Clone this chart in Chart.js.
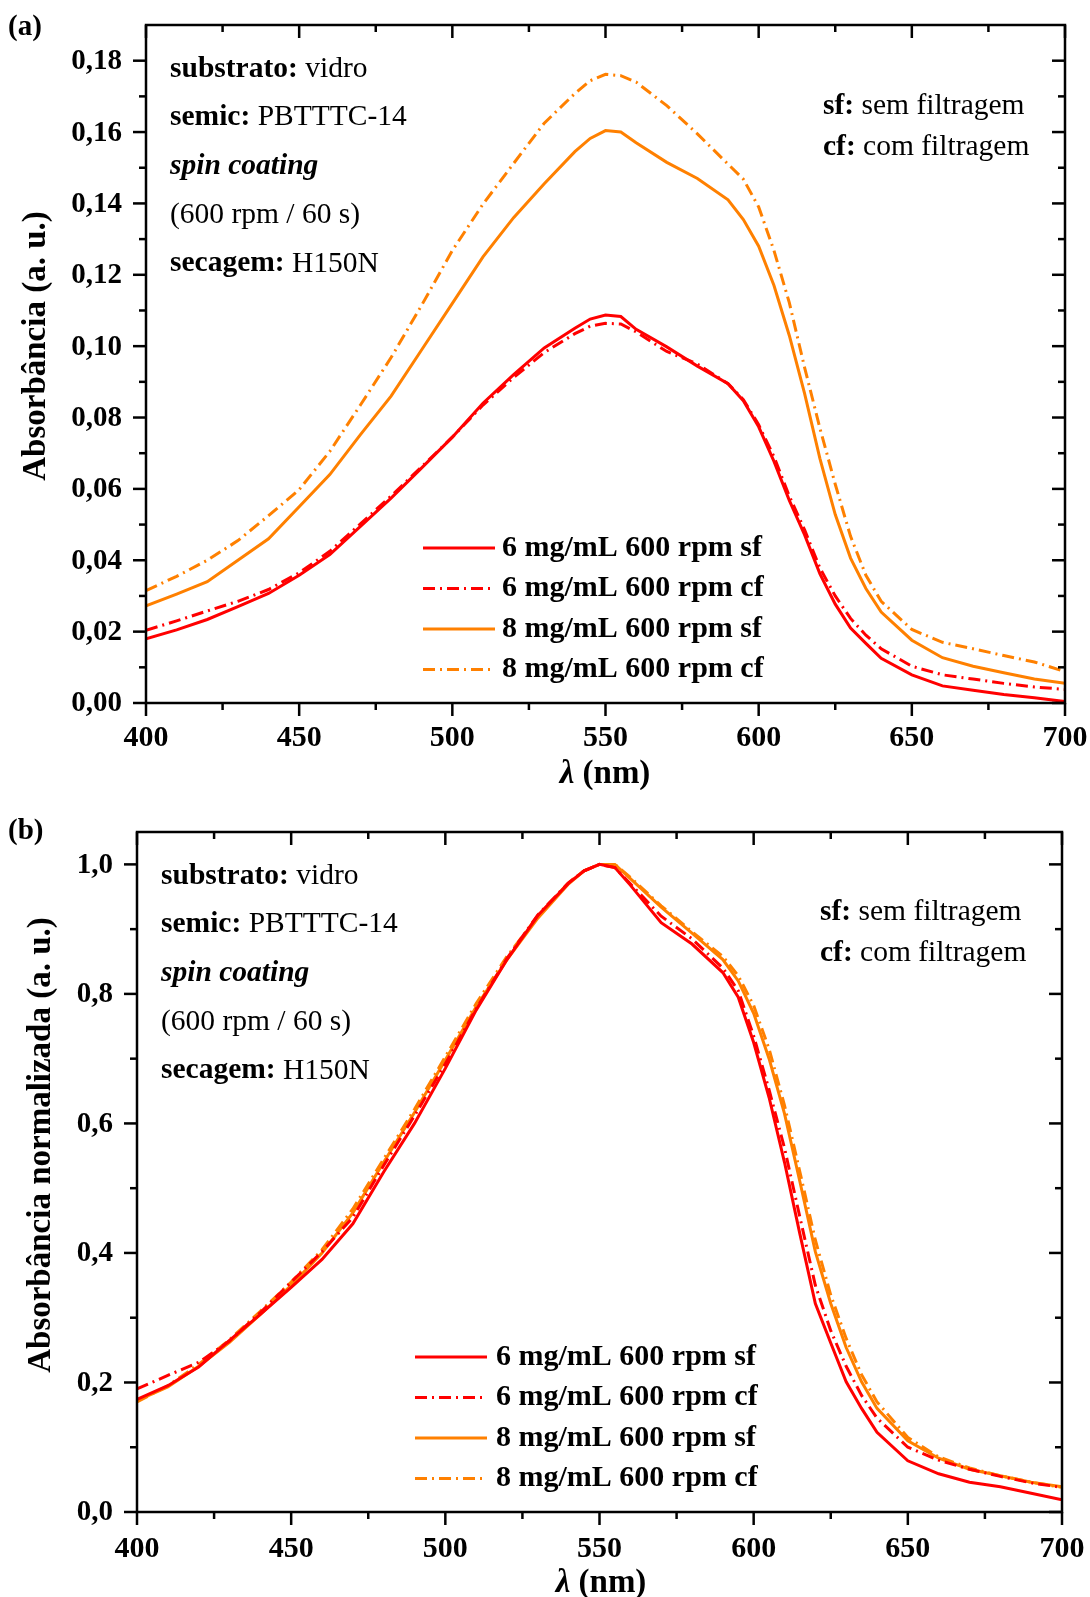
<!DOCTYPE html>
<html>
<head>
<meta charset="utf-8">
<script src="https://cdn.jsdelivr.net/npm/chart.js@4.4.1/dist/chart.umd.min.js"></script>
<style>
  html, body { margin: 0; padding: 0; background: #fff; }
  #wrap { position: relative; width: 1090px; height: 1597px; }
  canvas { position: absolute; left: 0; }
</style>
</head>
<body>
<div id="wrap">
  <canvas id="chartA" width="1090" height="790" style="top:0"></canvas>
  <canvas id="chartB" width="1090" height="807" style="top:790px"></canvas>
</div>
<script>
// wavelength grid (nm), shared by every curve
const wavelengths = [400, 410, 420, 430, 440, 450, 460, 470, 480, 490, 500, 510, 520, 530, 540, 545, 550, 555, 560,
  570, 580, 590, 595, 600, 605, 610, 615, 620, 625, 630, 635, 640, 650, 660, 670, 680, 690, 700];

const seriesLabels = ["6 mg/mL 600 rpm sf", "6 mg/mL 600 rpm cf", "8 mg/mL 600 rpm sf", "8 mg/mL 600 rpm cf"];

// (a) absorbance
const absA6sf = [0.0180, 0.0205, 0.0234, 0.0270, 0.0307, 0.0358, 0.0416, 0.0495, 0.0574, 0.0659, 0.0745, 0.0840, 0.0920, 0.0995, 0.1050, 0.1076, 0.1087, 0.1083,
  0.1047, 0.0998, 0.0944, 0.0895, 0.0847, 0.0774, 0.0677, 0.0568, 0.0471, 0.0362, 0.0277, 0.0210, 0.0167, 0.0125, 0.0079, 0.0048, 0.0036, 0.0024, 0.0015, 0.0004];
const absA6cf = [0.0204, 0.0230, 0.0258, 0.0285, 0.0318, 0.0365, 0.0425, 0.0502, 0.0580, 0.0662, 0.0745, 0.0835, 0.0912, 0.0982, 0.1035, 0.1056, 0.1064, 0.1062,
  0.1040, 0.0985, 0.0950, 0.0895, 0.0850, 0.0780, 0.0690, 0.0580, 0.0485, 0.0378, 0.0300, 0.0237, 0.0190, 0.0152, 0.0103, 0.0079, 0.0067, 0.0055, 0.0045, 0.0038];
const absA8sf = [0.0272, 0.0305, 0.0340, 0.0400, 0.0460, 0.0550, 0.0640, 0.0752, 0.0860, 0.0990, 0.1120, 0.1250, 0.1360, 0.1455, 0.1545, 0.1582, 0.1604, 0.1600,
  0.1570, 0.1515, 0.1470, 0.1410, 0.1355, 0.1280, 0.1170, 0.1030, 0.0867, 0.0685, 0.0528, 0.0406, 0.0321, 0.0255, 0.0176, 0.0127, 0.0103, 0.0085, 0.0067, 0.0055];
const absA8cf = [0.0315, 0.0355, 0.0400, 0.0455, 0.0525, 0.0598, 0.0705, 0.0835, 0.0968, 0.1115, 0.1268, 0.1398, 0.1512, 0.1625, 0.1708, 0.1744, 0.1762, 0.1758,
  0.1740, 0.1674, 0.1595, 0.1510, 0.1468, 0.1390, 0.1268, 0.1122, 0.0940, 0.0770, 0.0613, 0.0467, 0.0358, 0.0285, 0.0206, 0.0170, 0.0152, 0.0133, 0.0115, 0.0088];

// (b) normalised absorbance
const normB6sf = [0.174, 0.195, 0.224, 0.265, 0.305, 0.347, 0.390, 0.445, 0.525, 0.600, 0.685, 0.775, 0.853, 0.921, 0.971, 0.990, 1.000, 0.995,
  0.968, 0.910, 0.877, 0.833, 0.795, 0.725, 0.640, 0.540, 0.429, 0.322, 0.261, 0.201, 0.160, 0.123, 0.079, 0.059, 0.046, 0.039, 0.029, 0.019];
const normB6cf = [0.190, 0.211, 0.231, 0.264, 0.308, 0.355, 0.402, 0.455, 0.535, 0.612, 0.692, 0.777, 0.855, 0.922, 0.972, 0.990, 1.000, 0.995,
  0.970, 0.920, 0.885, 0.840, 0.805, 0.735, 0.652, 0.562, 0.455, 0.350, 0.280, 0.225, 0.180, 0.145, 0.100, 0.080, 0.066, 0.055, 0.045, 0.038];
const normB8sf = [0.172, 0.193, 0.225, 0.262, 0.305, 0.350, 0.400, 0.462, 0.540, 0.617, 0.698, 0.780, 0.853, 0.917, 0.970, 0.990, 1.000, 1.000,
  0.978, 0.934, 0.894, 0.853, 0.820, 0.770, 0.700, 0.615, 0.510, 0.402, 0.322, 0.254, 0.201, 0.160, 0.110, 0.083, 0.066, 0.056, 0.046, 0.039];
const normB8cf = [0.170, 0.195, 0.228, 0.266, 0.310, 0.355, 0.405, 0.468, 0.545, 0.622, 0.703, 0.785, 0.858, 0.920, 0.972, 0.990, 1.000, 1.000,
  0.980, 0.936, 0.896, 0.858, 0.828, 0.782, 0.715, 0.628, 0.525, 0.420, 0.335, 0.268, 0.212, 0.170, 0.115, 0.085, 0.068, 0.056, 0.046, 0.038];

const RED = "#ff0000";
const ORANGE = "#ff8000";
const DASHDOT = [12, 5, 2, 5];
const SERIF = '"Liberation Serif", "Times New Roman", serif';
const FS = 30;

function makeDatasets(values) {
  const colors = [RED, RED, ORANGE, ORANGE];
  return values.map((vals, i) => ({
    label: seriesLabels[i],
    data: wavelengths.map((w, k) => ({ x: w, y: vals[k] })),
    borderColor: colors[i],
    borderWidth: 3,
    borderDash: i % 2 ? DASHDOT : [],
    pointRadius: 0,
    tension: 0,
    fill: false,
  }));
}

function drawRuns(ctx, x, y, runs, size) {
  for (const [text, style] of runs) {
    ctx.font = (style || "") + " " + size + "px " + SERIF;
    ctx.fillText(text, x, y);
    x += ctx.measureText(text).width;
  }
}

function seg(ctx, x1, y1, x2, y2) {
  ctx.beginPath();
  ctx.moveTo(x1, y1);
  ctx.lineTo(x2, y2);
  ctx.stroke();
}

// frame, ticks on 4 sides, tick labels, titles, notes and legend
const framePlugin = {
  id: "frame",
  afterDatasetsDraw(chart, args, o) {
    const ctx = chart.ctx;
    const a = chart.chartArea;
    const xs = chart.scales.x, ys = chart.scales.y;
    ctx.save();
    ctx.strokeStyle = "#000";
    ctx.fillStyle = "#000";
    ctx.lineWidth = 2.5;
    ctx.setLineDash([]);
    ctx.strokeRect(a.left, a.top, a.right - a.left, a.bottom - a.top);

    // x ticks
    ctx.textAlign = "center";
    ctx.textBaseline = "middle";
    ctx.font = "bold " + FS + "px " + SERIF;
    const nx = Math.round((o.xMax - o.xMin) / o.xMinor);
    for (let i = 0; i <= nx; i++) {
      const v = o.xMin + i * o.xMinor;
      const major = i % o.xEvery === 0;
      const len = major ? 13 : 7;
      const px = xs.getPixelForValue(v);
      seg(ctx, px, a.bottom, px, a.bottom + len);
      seg(ctx, px, a.top, px, a.top + len);
      if (major) ctx.fillText(String(v), px, o.xLabelY);
    }

    // y ticks
    ctx.textAlign = "right";
    ctx.font = "bold 29px " + SERIF;
    const ny = Math.round((o.yMax - o.yMin) / o.yMinor);
    for (let i = 0; i <= ny; i++) {
      const v = o.yMin + i * o.yMinor;
      const major = i % o.yEvery === 0;
      const len = major ? 13 : 7;
      const py = ys.getPixelForValue(v);
      seg(ctx, a.left - len, py, a.left, py);
      seg(ctx, a.right - len, py, a.right, py);
      if (major) ctx.fillText(v.toFixed(o.yDec).replace(".", ","), a.left - 24, py + 1);
    }

    // panel letter
    ctx.textAlign = "left";
    ctx.font = "bold 29px " + SERIF;
    ctx.fillText(o.panel, 8, o.panelY);

    // x title: italic lambda + bold (nm)
    const TS = 33;
    ctx.font = "bold italic " + TS + "px " + SERIF;
    const w1 = ctx.measureText("\u03bb ").width;
    ctx.font = "bold " + TS + "px " + SERIF;
    const w2 = ctx.measureText("(nm)").width;
    drawRuns(ctx, o.xTitleX - (w1 + w2) / 2, o.xTitleY, [["\u03bb ", "bold italic"], ["(nm)", "bold"]], TS);

    // y title
    ctx.save();
    ctx.translate(o.yTitleX, o.yTitleY);
    ctx.rotate(-Math.PI / 2);
    ctx.textAlign = "center";
    ctx.font = "bold " + TS + "px " + SERIF;
    ctx.fillText(o.yTitle, 0, 0);
    ctx.restore();

    // notes
    ctx.textAlign = "left";
    for (const n of o.notes) drawRuns(ctx, n.x, n.y, n.runs, 29.5);

    // legend from the datasets
    chart.data.datasets.forEach((ds, i) => {
      const y = o.legY + i * o.legStep;
      ctx.strokeStyle = ds.borderColor;
      ctx.lineWidth = 3;
      ctx.setLineDash(ds.borderDash || []);
      seg(ctx, o.legX1, y, o.legX2, y);
      ctx.setLineDash([]);
      ctx.font = "bold " + FS + "px " + SERIF;
      ctx.fillText(ds.label, o.legTextX, y);
    });
    ctx.restore();
  },
};

function notesAt(x, y0, step, sx, sy) {
  return [
    { x: x, y: y0, runs: [["substrato:", "bold"], [" vidro", ""]] },
    { x: x, y: y0 + step, runs: [["semic:", "bold"], [" PBTTTC-14", ""]] },
    { x: x, y: y0 + 2 * step, runs: [["spin coating", "bold italic"]] },
    { x: x, y: y0 + 3 * step, runs: [["(600 rpm / 60 s)", ""]] },
    { x: x, y: y0 + 4 * step, runs: [["secagem:", "bold"], [" H150N", ""]] },
    { x: sx, y: sy, runs: [["sf:", "bold"], [" sem filtragem", ""]] },
    { x: sx, y: sy + 41, runs: [["cf:", "bold"], [" com filtragem", ""]] },
  ];
}

function makeChart(id, values, yMax, padding, frame) {
  return new Chart(document.getElementById(id).getContext("2d"), {
    type: "line",
    data: { datasets: makeDatasets(values) },
    options: {
      responsive: false,
      animation: false,
      devicePixelRatio: 1,
      layout: { padding: padding },
      scales: {
        x: { type: "linear", min: 400, max: 700, display: false },
        y: { type: "linear", min: 0, max: yMax, display: false },
      },
      plugins: { legend: { display: false }, tooltip: { enabled: false }, frame: frame },
    },
    plugins: [framePlugin],
  });
}

makeChart("chartA", [absA6sf, absA6cf, absA8sf, absA8cf], 0.19,
  { left: 146, top: 25, right: 25, bottom: 87 },
  {
    xMin: 400, xMax: 700, xMinor: 25, xEvery: 2, xLabelY: 738,
    yMin: 0, yMax: 0.18, yMinor: 0.01, yEvery: 2, yDec: 2,
    panel: "(a)", panelY: 28,
    xTitleX: 605, xTitleY: 774,
    yTitle: "Absorb\u00e2ncia (a. u.)", yTitleX: 36, yTitleY: 346,
    notes: notesAt(170, 69, 48.7, 823, 106),
    legX1: 423, legX2: 495, legTextX: 502, legY: 548, legStep: 40.5,
  });

makeChart("chartB", [normB6sf, normB6cf, normB8sf, normB8cf], 1.05,
  { left: 137, top: 42, right: 28, bottom: 85 },
  {
    xMin: 400, xMax: 700, xMinor: 25, xEvery: 2, xLabelY: 759,
    yMin: 0, yMax: 1.0, yMinor: 0.1, yEvery: 2, yDec: 1,
    panel: "(b)", panelY: 42,
    xTitleX: 601, xTitleY: 793,
    yTitle: "Absorb\u00e2ncia normalizada (a. u.)", yTitleX: 41, yTitleY: 355,
    notes: notesAt(161, 86, 48.7, 820, 122),
    legX1: 415, legX2: 487, legTextX: 496, legY: 567, legStep: 40.5,
  });
</script>
</body>
</html>
